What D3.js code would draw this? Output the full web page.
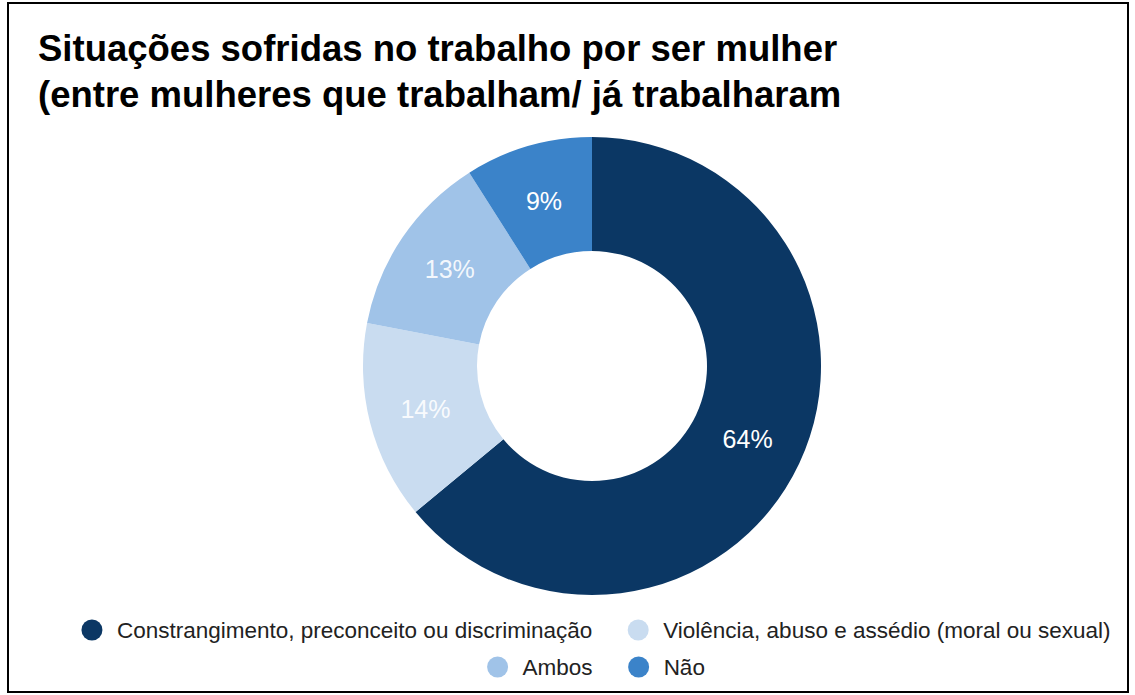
<!DOCTYPE html>
<html><head><meta charset="utf-8">
<script src="https://cdn.jsdelivr.net/npm/d3@7"></script>
<style>body{margin:0;background:#fff}svg{display:block}</style>
</head><body>
<svg id="c" width="1135" height="695"></svg>
<script>
const titleLines = ["Situações sofridas no trabalho por ser mulher", "(entre mulheres que trabalham/ já trabalharam"];
const categories = ["Constrangimento, preconceito ou discriminação", "Violência, abuso e assédio (moral ou sexual)", "Ambos", "Não"];
const values = [64, 14, 13, 9];
const labels = ["64%", "14%", "13%", "9%"];
const colors = ["#0b3764", "#c9dcf0", "#a0c3e8", "#3b83c9"];
const legendRows = [[0, 1], [2, 3]];

const svg = d3.select("#c");
svg.append("rect").attr("x", 8).attr("y", 3).attr("width", 1120).attr("height", 689)
  .attr("fill", "#fff").attr("stroke", "#000").attr("stroke-width", 2);

svg.selectAll("text.title").data(titleLines).enter().append("text")
  .attr("class", "title").attr("x", 38).attr("y", (d, i) => 61 + i * 46)
  .attr("font-family", "Liberation Sans, Arial, sans-serif").attr("font-weight", "bold")
  .attr("font-size", 36.5).attr("fill", "#000").text(d => d);

const cx = 592, cy = 366, rOut = 229, rIn = 115;
const pie = d3.pie().sort(null).value(d => d)(values);
const arc = d3.arc().innerRadius(rIn).outerRadius(rOut);
const g = svg.append("g").attr("transform", `translate(${cx},${cy})`);
g.selectAll("path").data(pie).enter().append("path")
  .attr("d", arc).attr("fill", (d, i) => colors[i]);
g.selectAll("text").data(pie).enter().append("text")
  .attr("transform", d => `translate(${arc.centroid(d)})`)
  .attr("text-anchor", "middle").attr("dy", "0.36em")
  .attr("font-family", "Liberation Sans, Arial, sans-serif").attr("font-size", 25)
  .attr("fill", "#fff").attr("fill-opacity", (d, i) => i === 0 || i === 3 ? 1 : 0.9)
  .text((d, i) => labels[i]);

const fs = 22.5, rowY = [630, 667], centerX = 596, gapText = 25, gapItem = 46, rDot = 10.5;
legendRows.forEach((row, ri) => {
  const lg = svg.append("g");
  let x = 0;
  row.forEach((ci, k) => {
    lg.append("circle").attr("cx", x + rDot).attr("cy", rowY[ri]).attr("r", rDot).attr("fill", colors[ci]);
    const t = lg.append("text").attr("x", x + rDot + gapText).attr("y", rowY[ri]).attr("dy", "0.35em")
      .attr("font-family", "Liberation Sans, Arial, sans-serif").attr("font-size", fs)
      .attr("fill", "#222").text(categories[ci]);
    x += rDot + gapText + t.node().getComputedTextLength();
    if (k < row.length - 1) x += gapItem - rDot;
  });
  lg.attr("transform", `translate(${centerX - x / 2},0)`);
});
</script>
</body></html>
